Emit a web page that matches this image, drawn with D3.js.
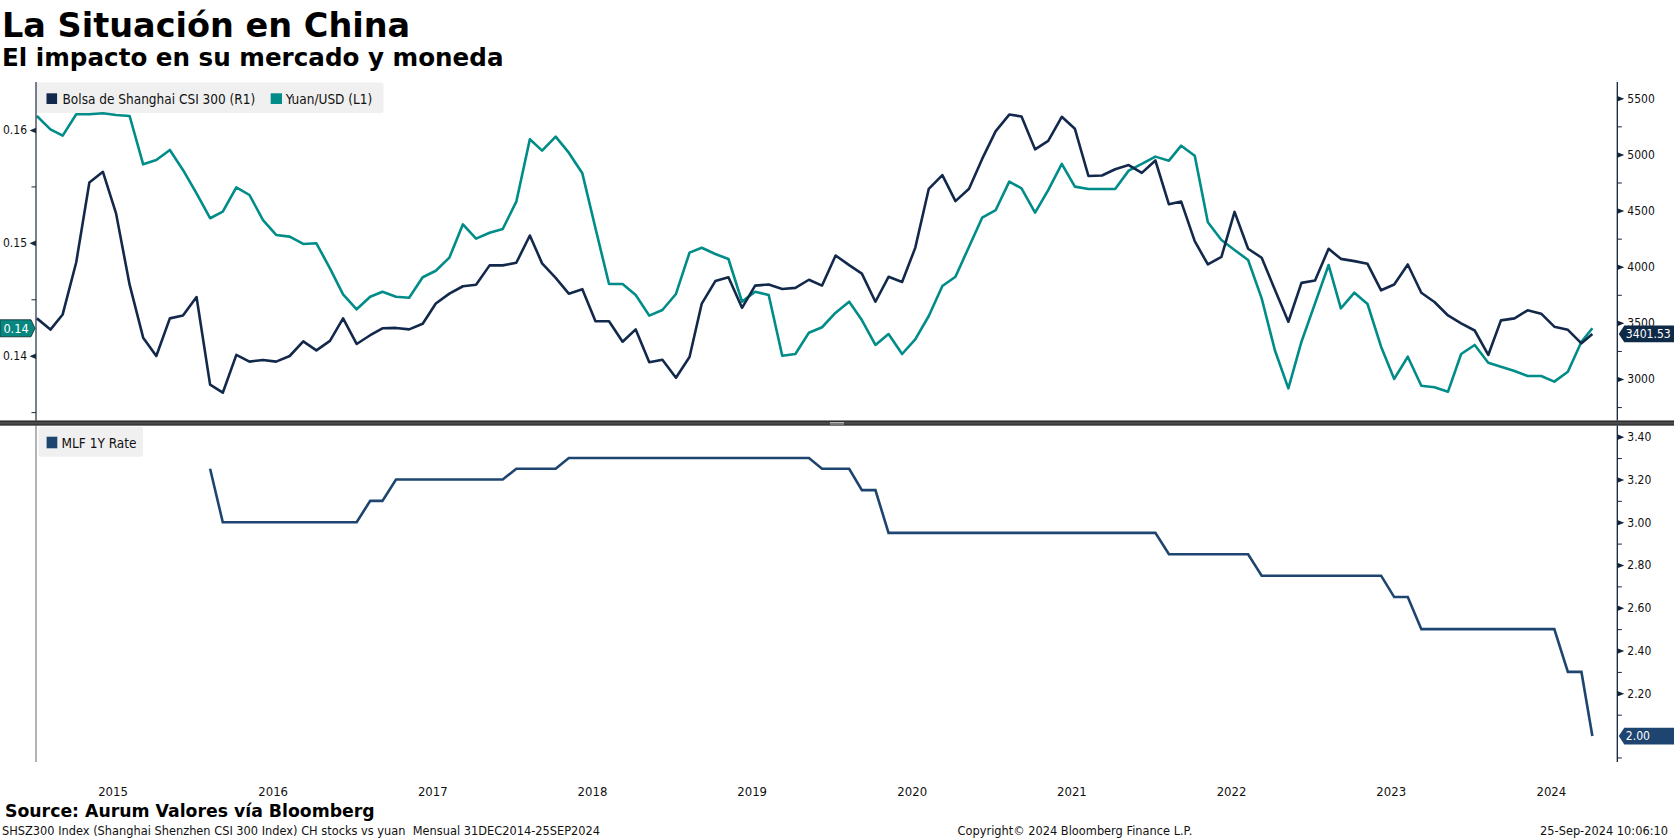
<!DOCTYPE html>
<html>
<head>
<meta charset="utf-8">
<script src="https://cdn.jsdelivr.net/npm/d3@7"></script>
<style>
  html, body { margin: 0; padding: 0; background: #ffffff; }
  svg { display: block; }
</style>
</head>
<body>
<svg id="chart" width="1674" height="840"></svg>
<script>
// ---------------- DATA (monthly, Dec-2014 .. Sep-2024) ----------------
const seriesNames = ["Bolsa de Shanghai CSI 300 (R1)", "Yuan/USD (L1)", "MLF 1Y Rate"];

// CSI 300 index, monthly closes (right axis, top panel)
const csi300 = [
  3540, 3440, 3575, 4040, 4750, 4845, 4475, 3840, 3368, 3205, 3540, 3565,
  3730, 2950, 2878, 3215, 3155, 3170, 3155, 3205, 3335, 3255, 3340, 3540,
  3312, 3390, 3452, 3455, 3442, 3492, 3672, 3760, 3826, 3840, 4012, 4012,
  4035, 4278, 4030, 3900, 3760, 3800, 3515, 3515, 3332, 3442, 3150, 3172,
  3012, 3196, 3672, 3872, 3906, 3634, 3832, 3842, 3802, 3812, 3884, 3832,
  4100, 4014, 3938, 3688, 3910, 3864, 4168, 4694, 4816, 4584, 4694, 4960,
  5208, 5355, 5338, 5045, 5120, 5335, 5228, 4808, 4812, 4868, 4905, 4836,
  4946, 4556, 4580, 4228, 4020, 4088, 4488, 4160, 4080, 3798, 3510, 3856,
  3878, 4160, 4070, 4050, 4026, 3790, 3842, 4020, 3768, 3686, 3566, 3496,
  3432, 3214, 3522, 3540, 3612, 3582, 3466, 3438, 3318, 3401.53
];

// Yuan per USD inverted (USD per CNY), monthly (left axis, top panel)
const yuanUsd = [
  0.16124, 0.16006, 0.15950, 0.16139, 0.16139, 0.16148, 0.16133, 0.16124, 0.15696, 0.15734, 0.15823, 0.15646,
  0.15439, 0.15218, 0.15276, 0.15492, 0.15424, 0.15202, 0.15070, 0.15055, 0.14990, 0.14996, 0.14774, 0.14544,
  0.14411, 0.14523, 0.14567, 0.14523, 0.14514, 0.14695, 0.14753, 0.14869, 0.15164, 0.15037, 0.15090, 0.15123,
  0.15365, 0.15918, 0.15817, 0.15941, 0.15799, 0.15616, 0.15129, 0.14635, 0.14635, 0.14538, 0.14355, 0.14405,
  0.14547, 0.14913, 0.14957, 0.14901, 0.14857, 0.14479, 0.14567, 0.14538, 0.14000, 0.14015, 0.14204, 0.14252,
  0.14381, 0.14479, 0.14316, 0.14095, 0.14192, 0.14015, 0.14145, 0.14352, 0.14618, 0.14700, 0.14966, 0.15223,
  0.15291, 0.15542, 0.15483, 0.15267, 0.15468, 0.15699, 0.15498, 0.15477, 0.15477, 0.15477, 0.15640, 0.15699,
  0.15764, 0.15728, 0.15861, 0.15772, 0.15182, 0.15025, 0.14937, 0.14848, 0.14508, 0.14051, 0.13711, 0.14124,
  0.14464, 0.14804, 0.14420, 0.14558, 0.14458, 0.14080, 0.13794, 0.13991, 0.13734, 0.13720, 0.13681, 0.14015,
  0.14095, 0.13938, 0.13903, 0.13864, 0.13820, 0.13820, 0.13770, 0.13858, 0.14124, 0.14243
];

// MLF 1Y rate, monthly (bottom panel); null = no data yet
const mlf1y = [
  null, null, null, null, null, null, null, null, null, null, null, null,
  null, 3.25, 3.00, 3.00, 3.00, 3.00, 3.00, 3.00, 3.00, 3.00, 3.00, 3.00,
  3.00, 3.10, 3.10, 3.20, 3.20, 3.20, 3.20, 3.20, 3.20, 3.20, 3.20, 3.20,
  3.25, 3.25, 3.25, 3.25, 3.30, 3.30, 3.30, 3.30, 3.30, 3.30, 3.30, 3.30,
  3.30, 3.30, 3.30, 3.30, 3.30, 3.30, 3.30, 3.30, 3.30, 3.30, 3.30, 3.25,
  3.25, 3.25, 3.15, 3.15, 2.95, 2.95, 2.95, 2.95, 2.95, 2.95, 2.95, 2.95,
  2.95, 2.95, 2.95, 2.95, 2.95, 2.95, 2.95, 2.95, 2.95, 2.95, 2.95, 2.95,
  2.95, 2.85, 2.85, 2.85, 2.85, 2.85, 2.85, 2.85, 2.75, 2.75, 2.75, 2.75,
  2.75, 2.75, 2.75, 2.75, 2.75, 2.75, 2.65, 2.65, 2.50, 2.50, 2.50, 2.50,
  2.50, 2.50, 2.50, 2.50, 2.50, 2.50, 2.50, 2.30, 2.30, 2.00
];

// last observation date (partial month)
const lastObs = "2024-09-25";

// tick values / labels
const yearLabels = [2015, 2016, 2017, 2018, 2019, 2020, 2021, 2022, 2023, 2024];
const yuanMajor = [0.14, 0.15, 0.16];
const yuanMinor = [0.135, 0.145, 0.155];
const csiMajor = [3000, 3500, 4000, 4500, 5000, 5500];
const csiMinor = [2750, 3250, 3750, 4250, 4750, 5250];
const mlfMajor = [2.2, 2.4, 2.6, 2.8, 3.0, 3.2, 3.4];
const mlfMinor = [1.9, 2.1, 2.3, 2.5, 2.7, 2.9, 3.1, 3.3];

const titleText = "La Situación en China";
const subtitleText = "El impacto en su mercado y moneda";
const sourceText = "Source: Aurum Valores vía Bloomberg";
const footLeft = "SHSZ300 Index (Shanghai Shenzhen CSI 300 Index) CH stocks vs yuan  Mensual 31DEC2014-25SEP2024";
const footMid = "Copyright\u00A9 2024 Bloomberg Finance L.P.";
const footRight = "25-Sep-2024 10:06:10";

// ---------------- STYLE ----------------
const C_CSI = "#13294b", C_YUAN = "#008c88", C_MLF = "#1d4570";
const F_REG = "'DejaVu Sans Condensed', 'DejaVu Sans', sans-serif";
const F_WIDE = "'DejaVu Sans', sans-serif";
const F_BOLD = "'DejaVu Sans', sans-serif";

// ---------------- DATES ----------------
const parse = d3.timeParse("%Y-%m-%d");
const monthEnds = d3.timeMonth.range(new Date(2015, 0, 1), new Date(2024, 8, 2))
  .map(d => d3.timeDay.offset(d, -1));
const dates = monthEnds.concat([parse(lastObs)]);

// ---------------- SCALES ----------------
const xL = 36, xR = 1617.3;
const top1 = 82, bot1 = 420.5, top2 = 425.5, bot2 = 762;

const x = d3.scaleTime()
  .domain([new Date(2014, 11, 29), new Date(2024, 10, 21)])
  .range([xL, xR]);

const yYuan = d3.scaleLinear().domain([0.134302, 0.164253]).range([420, 82]);
const yCsi = d3.scaleLinear().domain([2635, 5645]).range([420, 82]);
const yMlf = d3.scaleLinear().domain([1.8788, 3.4499]).range([762, 426]);

const svg = d3.select("#chart");
svg.append("rect").attr("width", 1674).attr("height", 840).attr("fill", "#fff");

// ---------------- TITLES ----------------
svg.append("text").attr("x", 2).attr("y", 36.5)
  .attr("font-family", F_BOLD).attr("font-weight", "bold").attr("font-size", 33.5)
  .attr("fill", "#000").text(titleText);
svg.append("text").attr("x", 2).attr("y", 66)
  .attr("font-family", F_BOLD).attr("font-weight", "bold").attr("font-size", 24.6)
  .attr("fill", "#000").text(subtitleText);

// ---------------- LEGENDS ----------------
const leg1 = svg.append("g");
leg1.append("rect").attr("x", xL + 0.5).attr("y", 82.5).attr("width", 347).attr("height", 30.5)
  .attr("rx", 2).attr("fill", "#f0f0f0");
leg1.append("rect").attr("x", 46.5).attr("y", 93.3).attr("width", 10.6).attr("height", 10.7).attr("fill", C_CSI);
leg1.append("text").attr("x", 62.5).attr("y", 103.6).attr("font-family", F_REG).attr("font-size", 13.5)
  .attr("fill", "#111").text(seriesNames[0]);
leg1.append("rect").attr("x", 270.7).attr("y", 93.3).attr("width", 11.3).attr("height", 10.7).attr("fill", C_YUAN);
leg1.append("text").attr("x", 285.7).attr("y", 103.6).attr("font-family", F_REG).attr("font-size", 13.5)
  .attr("fill", "#111").text(seriesNames[1]);

const leg2 = svg.append("g");
leg2.append("rect").attr("x", 38.6).attr("y", 426.7).attr("width", 104.4).attr("height", 30)
  .attr("rx", 2).attr("fill", "#f0f0f0");
leg2.append("rect").attr("x", 46.6).attr("y", 436.7).attr("width", 10.7).attr("height", 11.6).attr("fill", C_MLF);
leg2.append("text").attr("x", 61.6).attr("y", 448).attr("font-family", F_REG).attr("font-size", 13.5)
  .attr("fill", "#111").text(seriesNames[2]);

// ---------------- LINES ----------------
const lineYuan = d3.line().x((d, i) => x(dates[i])).y(d => yYuan(d));
const lineCsi = d3.line().x((d, i) => x(dates[i])).y(d => yCsi(d));
const lineMlf = d3.line().defined(d => d != null).x((d, i) => x(dates[i])).y(d => yMlf(d));

svg.append("path").datum(yuanUsd).attr("d", lineYuan)
  .attr("fill", "none").attr("stroke", C_YUAN).attr("stroke-width", 2.6)
  .attr("stroke-linejoin", "round");
svg.append("path").datum(csi300).attr("d", lineCsi)
  .attr("fill", "none").attr("stroke", C_CSI).attr("stroke-width", 2.6)
  .attr("stroke-linejoin", "round");
svg.append("path").datum(mlf1y).attr("d", lineMlf)
  .attr("fill", "none").attr("stroke", C_MLF).attr("stroke-width", 2.6)
  .attr("stroke-linejoin", "miter");

// ---------------- AXES ----------------
function styleAxis(g) {
  g.select(".domain").remove();
  g.attr("font-family", F_REG).attr("font-size", 12);
  g.selectAll("text").attr("fill", "#111");
}

// left (Yuan) major ticks with triangles
const gYL = svg.append("g").attr("transform", `translate(${xL},0)`)
  .call(d3.axisLeft(yYuan).tickValues(yuanMajor).tickFormat(d3.format(".2f")).tickSize(0).tickPadding(9));
styleAxis(gYL);
gYL.selectAll(".tick").append("path").attr("d", "M0,-2.8L-6.5,0L0,2.8Z").attr("fill", "#1b2a3d");
const gYLm = svg.append("g").attr("transform", `translate(${xL},0)`)
  .call(d3.axisLeft(yYuan).tickValues(yuanMinor).tickFormat("").tickSize(4.5));
gYLm.select(".domain").remove();
gYLm.selectAll("line").attr("stroke", "#1b2a3d");

// right (CSI) axis
const gYR = svg.append("g").attr("transform", `translate(${xR},0)`)
  .call(d3.axisRight(yCsi).tickValues(csiMajor).tickFormat(d3.format("d")).tickSize(0).tickPadding(10));
styleAxis(gYR);
gYR.selectAll(".tick").append("path").attr("d", "M0,-2.8L7,0L0,2.8Z").attr("fill", "#13233a");
const gYRm = svg.append("g").attr("transform", `translate(${xR},0)`)
  .call(d3.axisRight(yCsi).tickValues(csiMinor).tickFormat("").tickSize(4.5));
gYRm.select(".domain").remove();
gYRm.selectAll("line").attr("stroke", "#13233a");

// right (MLF) axis
const gM = svg.append("g").attr("transform", `translate(${xR},0)`)
  .call(d3.axisRight(yMlf).tickValues(mlfMajor).tickFormat(d3.format(".2f")).tickSize(0).tickPadding(10));
styleAxis(gM);
gM.selectAll(".tick").append("path").attr("d", "M0,-2.8L7,0L0,2.8Z").attr("fill", "#13233a");
const gMm = svg.append("g").attr("transform", `translate(${xR},0)`)
  .call(d3.axisRight(yMlf).tickValues(mlfMinor).tickFormat("").tickSize(4.5));
gMm.select(".domain").remove();
gMm.selectAll("line").attr("stroke", "#13233a");

// x axis: year labels centred mid-year
const gX = svg.append("g").attr("transform", `translate(0,783)`)
  .call(d3.axisBottom(x).tickValues(yearLabels.map(y => new Date(y, 5, 22)))
    .tickFormat(d3.timeFormat("%Y")).tickSize(0).tickPadding(4));
styleAxis(gX);
gX.attr("font-size", 13);

// axis lines
svg.append("line").attr("x1", xL).attr("x2", xL).attr("y1", top1).attr("y2", bot1)
  .attr("stroke", "#1b2a3d").attr("stroke-width", 1.2);
svg.append("line").attr("x1", xL).attr("x2", xL).attr("y1", top2).attr("y2", bot2)
  .attr("stroke", "#666").attr("stroke-width", 1);
svg.append("line").attr("x1", xR).attr("x2", xR).attr("y1", top1).attr("y2", bot1)
  .attr("stroke", "#13233a").attr("stroke-width", 1.3);
svg.append("line").attr("x1", xR).attr("x2", xR).attr("y1", top2).attr("y2", bot2)
  .attr("stroke", "#13233a").attr("stroke-width", 1.3);

// panel separator
svg.append("rect").attr("x", 0).attr("y", 421).attr("width", 1674).attr("height", 4.3).attr("fill", "#4a4a4a");
svg.append("line").attr("x1", 0).attr("x2", 1674).attr("y1", 421).attr("y2", 421).attr("stroke", "#151515").attr("stroke-width", 1);
svg.append("line").attr("x1", 0).attr("x2", 1674).attr("y1", 425).attr("y2", 425).attr("stroke", "#252525").attr("stroke-width", 1);
svg.append("line").attr("x1", 830).attr("x2", 844).attr("y1", 422.5).attr("y2", 422.5).attr("stroke", "#b5b5b5").attr("stroke-width", 1);
svg.append("line").attr("x1", 830).attr("x2", 844).attr("y1", 424).attr("y2", 424).attr("stroke", "#b5b5b5").attr("stroke-width", 1);

// ---------------- LAST VALUE TAGS ----------------
function rightTag(yv, label, fill) {
  const g = svg.append("g");
  const h = 8.3;
  g.append("path")
    .attr("d", `M${xR + 1.5},${yv} L${xR + 7},${yv - h} L1674,${yv - h} L1674,${yv + h} L${xR + 7},${yv + h} Z`)
    .attr("fill", fill);
  g.append("text").attr("x", xR + 8.5).attr("y", yv).attr("dy", "0.36em")
    .attr("font-family", F_REG).attr("font-size", 12.1).attr("fill", "#fff").text(label);
}
function leftTag(yv, label, fill) {
  const g = svg.append("g");
  const h = 8.5;
  g.append("path")
    .attr("d", `M0,${yv - h} L31,${yv - h} L35,${yv} L31,${yv + h} L0,${yv + h} Z`)
    .attr("fill", fill).attr("stroke", "#0b2a2a").attr("stroke-width", 0.8);
  g.append("text").attr("x", 16).attr("y", yv).attr("dy", "0.36em").attr("text-anchor", "middle")
    .attr("font-family", F_REG).attr("font-size", 12.6).attr("fill", "#fff").text(label);
}
const nLast = yuanUsd.length - 1;
leftTag(yYuan(yuanUsd[nLast]), d3.format(".2f")(yuanUsd[nLast]), "#07877f");
rightTag(yCsi(csi300[nLast]), d3.format(".2f")(csi300[nLast]), "#0f2a47");
rightTag(yMlf(mlf1y[nLast]), d3.format(".2f")(mlf1y[nLast]), C_MLF);

// ---------------- FOOTER ----------------
svg.append("text").attr("x", 5).attr("y", 817)
  .attr("font-family", F_BOLD).attr("font-weight", "bold").attr("font-size", 17.3)
  .attr("fill", "#000").text(sourceText);
svg.append("text").attr("x", 2).attr("y", 835).style("white-space", "pre")
  .attr("font-family", F_WIDE).attr("font-size", 11.4).attr("fill", "#111").text(footLeft);
svg.append("text").attr("x", 957.6).attr("y", 835)
  .attr("font-family", F_WIDE).attr("font-size", 11.4).attr("fill", "#111").text(footMid);
svg.append("text").attr("x", 1668).attr("y", 835).attr("text-anchor", "end")
  .attr("font-family", F_WIDE).attr("font-size", 11.4).attr("fill", "#111").text(footRight);
</script>
</body>
</html>
